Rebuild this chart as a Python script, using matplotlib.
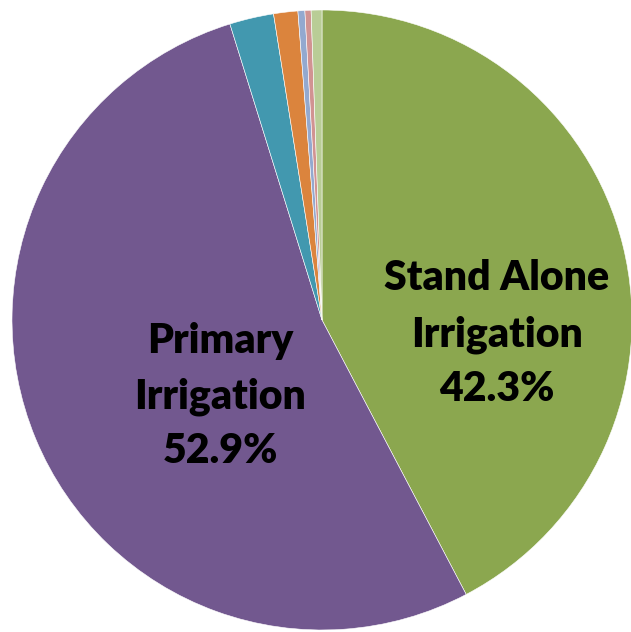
import matplotlib
matplotlib.use("Agg")
import matplotlib.pyplot as plt

# Data (clockwise from 12 o'clock)
categories = ["Stand Alone Irrigation", "Primary Irrigation", "Other A", "Other B",
              "Other C", "Other D", "Other E"]
values = [42.3, 52.9, 2.3, 1.26, 0.36, 0.32, 0.56]
colors = ["#8BA74F", "#72588F", "#4298AF", "#DB843D", "#93A9CF", "#D19392", "#B9CD96"]
label_lines = {
    0: ["Stand Alone", "Irrigation", "42.3%"],
    1: ["Primary", "Irrigation", "52.9%"],
}

W, H = 631, 632
fig = plt.figure(figsize=(W / 100, H / 100), dpi=100)
fig.patch.set_facecolor("white")
cx, cy, r = 322, 320, 310
ax = fig.add_axes([(cx - r) / W, (H - cy - r) / H, 2 * r / W, 2 * r / H])
ax.pie(values, colors=colors, startangle=90, counterclock=False, radius=1,
       wedgeprops=dict(edgecolor="white", linewidth=0.4))
ax.set_xlim(-1, 1)
ax.set_ylim(-1, 1)
ax.set_aspect("auto")
ax.axis("off")

# Label positions (pixel -> data)
def px2d(px, py):
    return (px - cx) / r, (cy - py) / r

label_pos = {
    0: (497, [290, 346, 401]),
    1: (220, [353, 408, 463]),
}
for idx, lines in label_lines.items():
    px, bases = label_pos[idx]
    for line, by in zip(lines, bases):
        x, y = px2d(px, by)
        ax.text(x, y, line, ha="center", va="baseline", fontsize=29.5,
                fontweight="heavy", family=["Lato", "DejaVu Sans"], color="black")

fig.savefig("out.png", dpi=100, facecolor="white")
